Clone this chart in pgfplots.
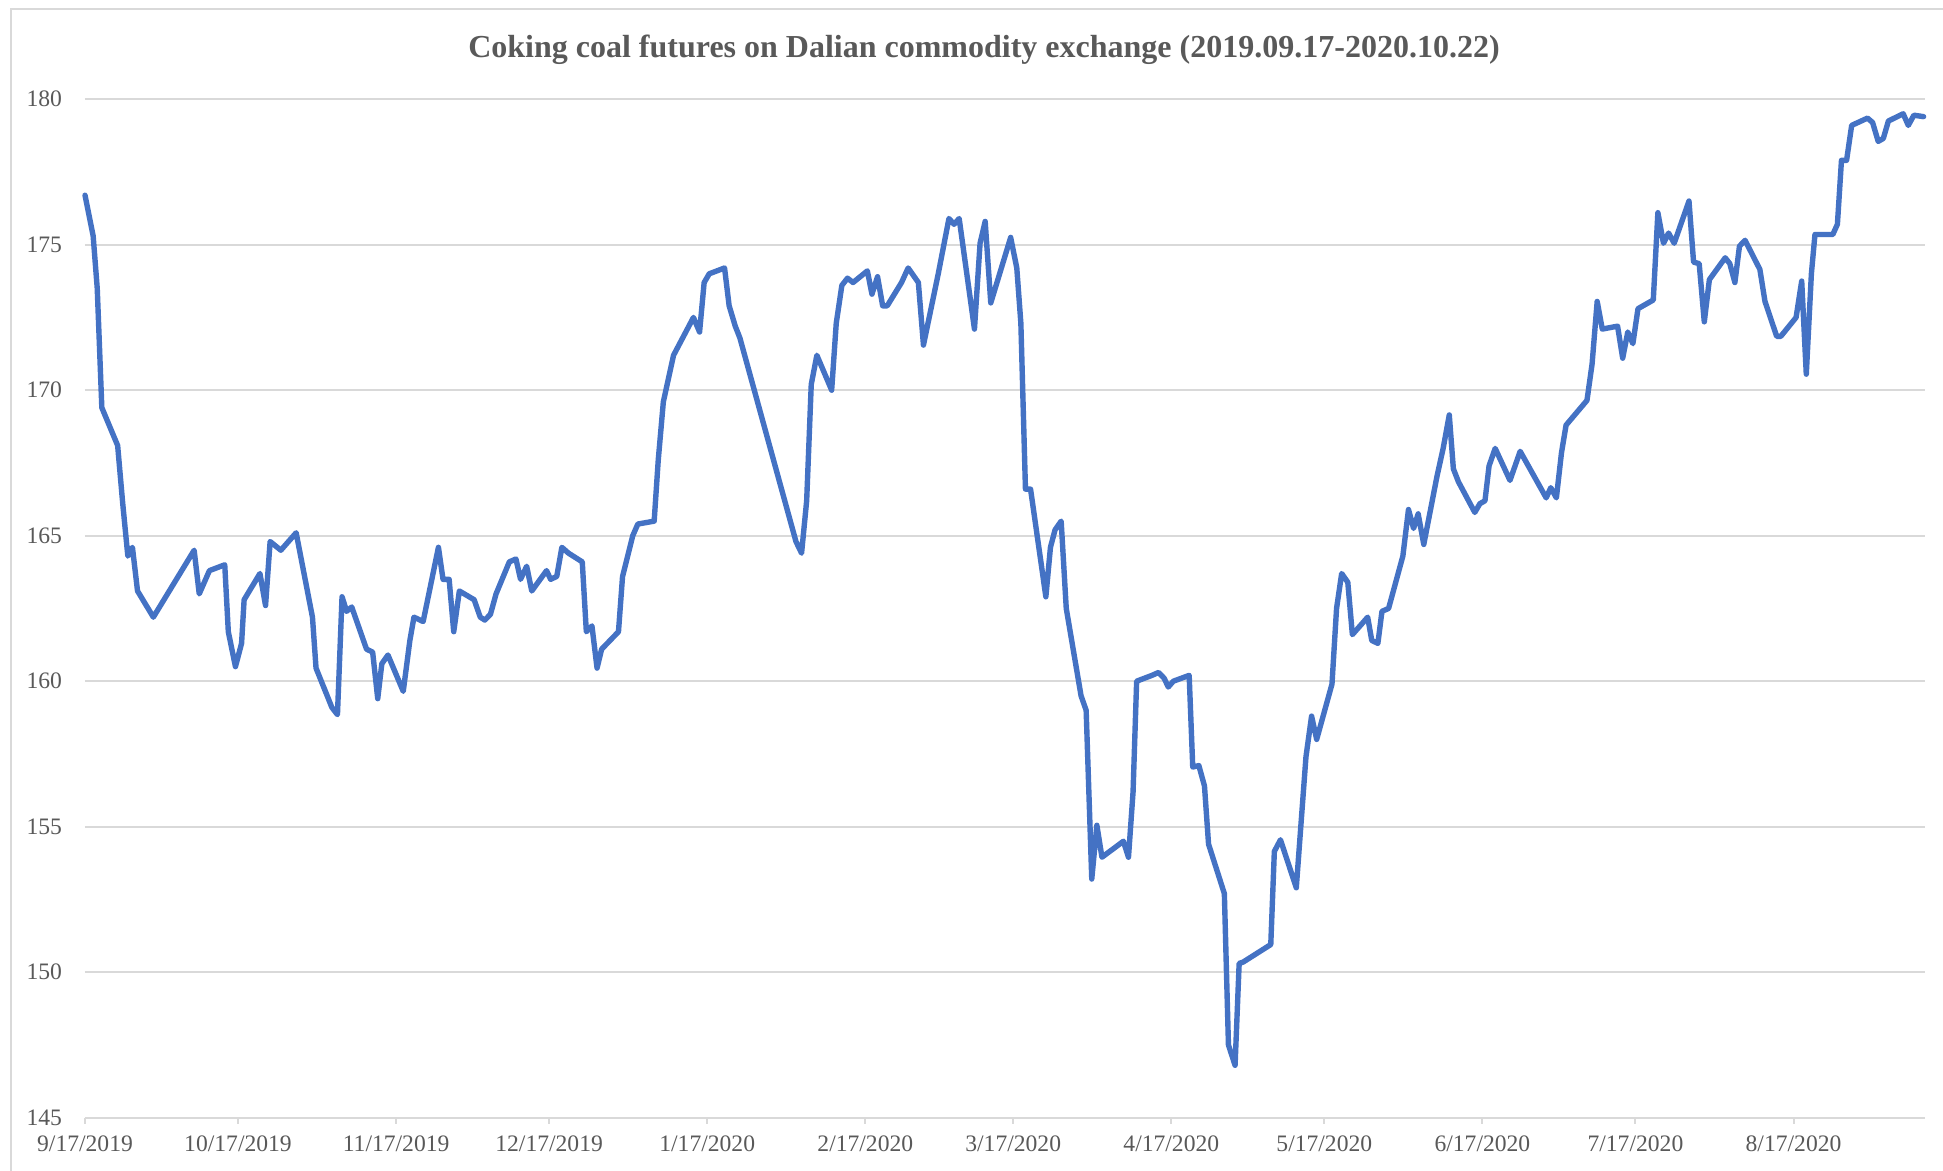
\documentclass[border=0pt]{standalone}
\usepackage{fontspec}
\setmainfont{Liberation Serif}
\usepackage{pgfplots}
\pgfplotsset{compat=1.18}
\definecolor{lineblue}{HTML}{4472C4}
\definecolor{gridgray}{HTML}{D9D9D9}
\definecolor{txtgray}{HTML}{595959}
\begin{document}
\begin{tikzpicture}
\useasboundingbox (-42.5pt,-26.65pt) rectangle (929pt,558.85pt);
\draw[gridgray, line width=1pt] (-37pt,-60pt) -- (-37pt,554.35pt) -- (980pt,554.35pt);
\begin{axis}[
  at={(0pt,0pt)}, anchor=south west,
  scale only axis,
  width=919.8pt, height=509.25pt,
  xmin=0, xmax=360.7, ymin=145, ymax=180,
  axis lines=left,
  axis line style={-},
  y axis line style={draw=none},
  x axis line style={draw=gridgray, line width=1pt},
  ytick={145,150,...,180},
  ymajorgrids,
  grid style={gridgray, line width=0.9pt},
  xtick={0,30,61,91,122,153,182,213,243,274,304,335},
  xticklabels={9/17/2019,10/17/2019,11/17/2019,12/17/2019,1/17/2020,2/17/2020,3/17/2020,4/17/2020,5/17/2020,6/17/2020,7/17/2020,8/17/2020},
  tick align=outside,
  major tick length=3pt,
  xtick style={gridgray, line width=1pt},
  ytick style={draw=none},
  /pgf/number format/assume math mode=true,
  ticklabel style={font=\fontsize{11.8}{14}\selectfont, text=txtgray},
  xticklabel style={yshift=-2.5pt},
  yticklabel style={xshift=-5pt},
  clip=false,
]
\addplot[lineblue, line width=2.7pt, line join=round, line cap=round] coordinates {
(0,176.7)(1.6,175.3)(2.4,173.5)(3.3,169.4)(6.4,168.1)(7.4,166.1)(8.4,164.3)(9.3,164.6)(10.3,163.1)(13.4,162.2)
(21.4,164.5)(22.4,163.0)(24.4,163.8)(27.4,164.0)(28.1,161.7)(29.5,160.5)(30.7,161.3)(31.2,162.8)(34.3,163.7)(35.4,162.6)
(36.3,164.8)(38.4,164.5)(41.4,165.1)(44.6,162.2)(45.3,160.45)(48.4,159.1)(49.5,158.85)(50.4,162.9)(51.3,162.4)(52.3,162.55)
(55.2,161.1)(56.4,161.0)(57.4,159.4)(58.2,160.6)(59.4,160.9)(62.4,159.65)(63.7,161.4)(64.5,162.2)(66.3,162.05)(69.3,164.6)
(70.2,163.5)(71.4,163.5)(72.3,161.7)(73.4,163.1)(76.3,162.8)(77.5,162.2)(78.4,162.1)(79.5,162.3)(80.6,163.0)(83.2,164.1)
(84.5,164.2)(85.4,163.5)(86.6,163.95)(87.6,163.1)(90.5,163.8)(91.3,163.5)(92.5,163.6)(93.5,164.6)(94.8,164.4)(97.5,164.1)
(98.3,161.7)(99.4,161.9)(100.4,160.45)(101.3,161.1)(104.6,161.7)(105.4,163.6)(107.4,165.0)(108.4,165.4)(111.6,165.5)(112.4,167.6)
(113.4,169.6)(115.4,171.2)(119.3,172.5)(120.5,172.0)(121.4,173.7)(122.4,174.0)(125.4,174.2)(126.3,172.9)(127.5,172.2)(128.4,171.8)
(139.4,164.8)(140.5,164.4)(141.5,166.2)(142.4,170.2)(143.5,171.2)(146.4,170.0)(147.3,172.3)(148.4,173.6)(149.5,173.85)(150.6,173.7)
(153.4,174.1)(154.3,173.3)(155.4,173.9)(156.4,172.9)(157.3,172.9)(160.1,173.7)(161.4,174.2)(163.4,173.7)(164.4,171.55)(167.3,174.0)
(169.4,175.9)(170.4,175.7)(171.4,175.9)(174.4,172.1)(175.5,175.05)(176.5,175.8)(177.6,173.0)(181.5,175.25)(182.7,174.2)(183.5,172.3)
(184.4,166.6)(185.4,166.6)(188.4,162.9)(189.3,164.6)(190.2,165.2)(191.4,165.5)(192.4,162.5)(195.3,159.5)(196.3,159.0)(197.4,153.2)
(198.4,155.05)(199.4,153.95)(203.6,154.5)(204.6,153.95)(205.5,156.2)(206.2,160.0)(209.2,160.2)(210.5,160.3)(211.6,160.1)(212.4,159.8)
(213.4,160.0)(216.5,160.2)(217.2,157.05)(218.4,157.1)(219.5,156.4)(220.3,154.4)(223.4,152.7)(224.2,147.5)(225.5,146.8)(226.3,150.3)
(227.1,150.35)(232.5,150.95)(233.2,154.15)(234.4,154.55)(237.5,152.9)(239.4,157.4)(240.5,158.8)(241.5,158.0)(244.5,159.9)(245.4,162.5)
(246.4,163.7)(247.6,163.4)(248.5,161.6)(251.5,162.2)(252.3,161.4)(253.5,161.3)(254.3,162.4)(255.6,162.5)(258.4,164.3)(259.5,165.9)
(260.5,165.25)(261.4,165.75)(262.5,164.7)(265.1,167.05)(266.3,168.0)(267.5,169.15)(268.3,167.3)(269.3,166.85)(272.5,165.8)(273.5,166.1)
(274.5,166.2)(275.3,167.4)(276.5,168.0)(279.4,166.9)(281.4,167.9)(286.5,166.3)(287.4,166.65)(288.5,166.3)(289.5,167.85)(290.4,168.8)
(294.5,169.65)(295.5,170.9)(296.5,173.05)(297.5,172.1)(300.5,172.2)(301.5,171.1)(302.5,172.0)(303.5,171.6)(304.5,172.8)(307.5,173.1)
(308.4,176.1)(309.5,175.05)(310.5,175.4)(311.6,175.05)(314.5,176.5)(315.4,174.4)(316.5,174.35)(317.5,172.35)(318.5,173.8)(321.6,174.55)
(322.5,174.35)(323.5,173.7)(324.4,174.95)(325.5,175.15)(328.4,174.15)(329.4,173.05)(331.7,171.85)(332.5,171.85)(335.5,172.5)(336.6,173.75)
(337.5,170.55)(338.5,174.0)(339.2,175.35)(342.7,175.35)(343.6,175.7)(344.4,177.9)(345.4,177.9)(346.4,179.1)(349.5,179.35)(350.5,179.2)
(351.6,178.55)(352.6,178.65)(353.6,179.25)(356.5,179.5)(357.5,179.1)(358.6,179.45)(360.5,179.4)
};
\end{axis}
\node[text=txtgray, font=\fontsize{16}{19}\selectfont\bfseries] at (449.5pt,533.85pt) {Coking coal futures on Dalian commodity exchange (2019.09.17-2020.10.22)};
\end{tikzpicture}
\end{document}
